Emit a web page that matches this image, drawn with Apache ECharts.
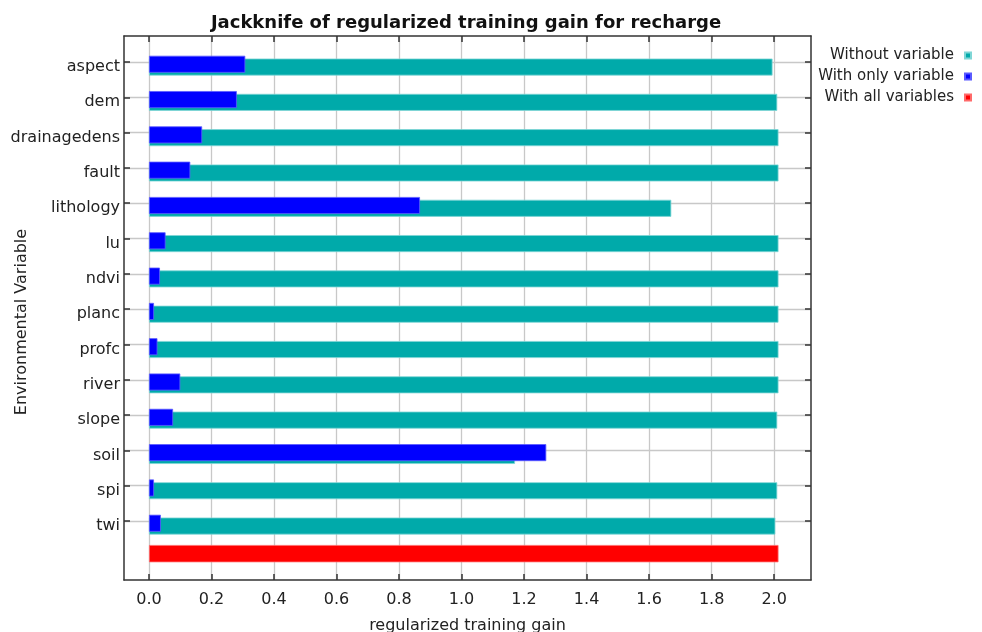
<!DOCTYPE html>
<html>
<head>
<meta charset="utf-8">
<script src="https://cdn.jsdelivr.net/npm/echarts@6/dist/echarts.min.js"></script>
<style>
html,body{margin:0;padding:0;background:#fff;}
#chart{width:982px;height:632px;}
</style>
</head>
<body>
<div id="chart"></div>
<script>
const variables = ['aspect','dem','drainagedens','fault','lithology','lu','ndvi','planc','profc','river','slope','soil','spi','twi'];
const withoutVariable = [1.995, 2.010, 2.014, 2.014, 1.671, 2.014, 2.014, 2.014, 2.014, 2.014, 2.010, 1.171, 2.010, 2.004];
const withOnlyVariable = [0.308, 0.281, 0.170, 0.132, 0.867, 0.053, 0.035, 0.016, 0.027, 0.100, 0.077, 1.271, 0.016, 0.038];
const withAllVariables = [2.014];
const xTicks = [0, 0.2, 0.4, 0.6, 0.8, 1.0, 1.2, 1.4, 1.6, 1.8, 2.0];
const yTickIdx = variables.map((v, i) => i);

const FONT = 'DejaVu Sans';
const XMIN = -0.08, XMAX = 2.118;
const YMIN = -0.736, YMAX = 14.67;
const axisColor = '#333333';
const gridColor = '#c8c8c8';

const chart = echarts.init(document.getElementById('chart'));
chart.setOption({
  backgroundColor: '#ffffff',
  animation: false,
  title: {
    text: 'Jackknife of regularized training gain for recharge',
    left: 461, top: 9, textAlign: 'center',
    textStyle: {fontFamily: FONT, fontWeight: 'bold', fontSize: 18, color: '#111'}
  },
  legend: {
    orient: 'vertical', align: 'right', right: 5, top: 43,
    itemWidth: 6, itemHeight: 6, itemGap: 6, icon: 'rect',
    data: ['Without variable', 'With only variable', 'With all variables'],
    textStyle: {fontFamily: FONT, fontSize: 15, color: '#222', padding: [0, 6, 0, 0]}
  },
  grid: [
    {left: 124, top: 36, width: 687, height: 544, containLabel: false, outerBoundsMode: 'none'},
    {left: 124, top: 48, width: 687, height: 494.3, containLabel: false, outerBoundsMode: 'none'},
    {left: 124, top: 545, width: 687, height: 17.3, containLabel: false, outerBoundsMode: 'none'},
    {left: 124, top: 64, width: 687, height: 516, containLabel: false, outerBoundsMode: 'none'}
  ],
  xAxis: [
    {
      type: 'value', gridIndex: 0, position: 'bottom', min: XMIN, max: XMAX,
      name: 'regularized training gain', nameLocation: 'middle', nameGap: 38,
      nameTextStyle: {fontFamily: FONT, fontSize: 16, color: '#222'},
      axisLine: {show: true, onZero: false, lineStyle: {color: axisColor, width: 1.5}},
      axisTick: {show: true, inside: true, length: 6, customValues: xTicks, lineStyle: {color: axisColor, width: 1.5}},
      axisLabel: {show: true, customValues: xTicks, margin: 12, fontFamily: FONT, fontSize: 16, color: '#222',
        formatter: v => Number(v).toFixed(1)},
      splitLine: {show: true, lineStyle: {color: gridColor, width: 1.3}}
    },
    {
      type: 'value', gridIndex: 0, position: 'top', min: XMIN, max: XMAX,
      axisLine: {show: true, onZero: false, lineStyle: {color: axisColor, width: 1.5}},
      axisTick: {show: true, inside: true, length: 6, customValues: xTicks, lineStyle: {color: axisColor, width: 1.5}},
      axisLabel: {show: false},
      splitLine: {show: false}
    },
    {type: 'value', gridIndex: 1, min: XMIN, max: XMAX, show: false},
    {type: 'value', gridIndex: 2, min: XMIN, max: XMAX, show: false},
    {type: 'value', gridIndex: 3, min: XMIN, max: XMAX, show: false}
  ],
  yAxis: [
    {
      type: 'value', gridIndex: 0, position: 'left', inverse: true, min: YMIN, max: YMAX,
      axisLine: {show: true, onZero: false, lineStyle: {color: axisColor, width: 1.5}},
      axisTick: {show: true, inside: true, length: 6, customValues: yTickIdx, lineStyle: {color: axisColor, width: 1.5}},
      axisLabel: {show: true, customValues: yTickIdx, margin: 4, verticalAlign: 'top', lineHeight: 10,
        fontFamily: FONT, fontSize: 16, color: '#222',
        formatter: v => variables[Math.round(v)] || ''},
      splitLine: {show: true, lineStyle: {color: gridColor, width: 1.3}}
    },
    {
      type: 'value', gridIndex: 0, position: 'right', inverse: true, min: YMIN, max: YMAX,
      axisLine: {show: true, onZero: false, lineStyle: {color: axisColor, width: 1.5}},
      axisTick: {show: true, inside: true, length: 6, customValues: yTickIdx, lineStyle: {color: axisColor, width: 1.5}},
      axisLabel: {show: false},
      splitLine: {show: false}
    },
    {type: 'category', gridIndex: 1, inverse: true, data: variables, show: false},
    {type: 'category', gridIndex: 2, inverse: true, data: ['all'], show: false},
    {
      type: 'value', gridIndex: 3, position: 'left', min: 0, max: 1,
      name: 'Environmental Variable', nameLocation: 'middle', nameGap: 94, nameRotate: 90,
      nameTextStyle: {fontFamily: FONT, fontSize: 16, color: '#222'},
      axisLine: {show: false}, axisTick: {show: false}, axisLabel: {show: false}, splitLine: {show: false}
    }
  ],
  series: [
    {
      name: 'With only variable', type: 'bar', xAxisIndex: 2, yAxisIndex: 2,
      data: withOnlyVariable, barWidth: 17, barGap: '-83.5%', z: 4,
      itemStyle: {color: '#0000ff', borderColor: '#5a5aff', borderWidth: 0.8}
    },
    {
      name: 'Without variable', type: 'bar', xAxisIndex: 2, yAxisIndex: 2,
      data: withoutVariable, barWidth: 17, barGap: '-83.5%', z: 3,
      itemStyle: {color: '#00aaaa', borderColor: '#7fd6d6', borderWidth: 0.8}
    },
    {
      name: 'With all variables', type: 'bar', xAxisIndex: 3, yAxisIndex: 3,
      data: withAllVariables, barWidth: '100%', z: 3,
      itemStyle: {color: '#ff0000', borderColor: '#ff6a6a', borderWidth: 0.8}
    }
  ]
});
</script>
</body>
</html>
